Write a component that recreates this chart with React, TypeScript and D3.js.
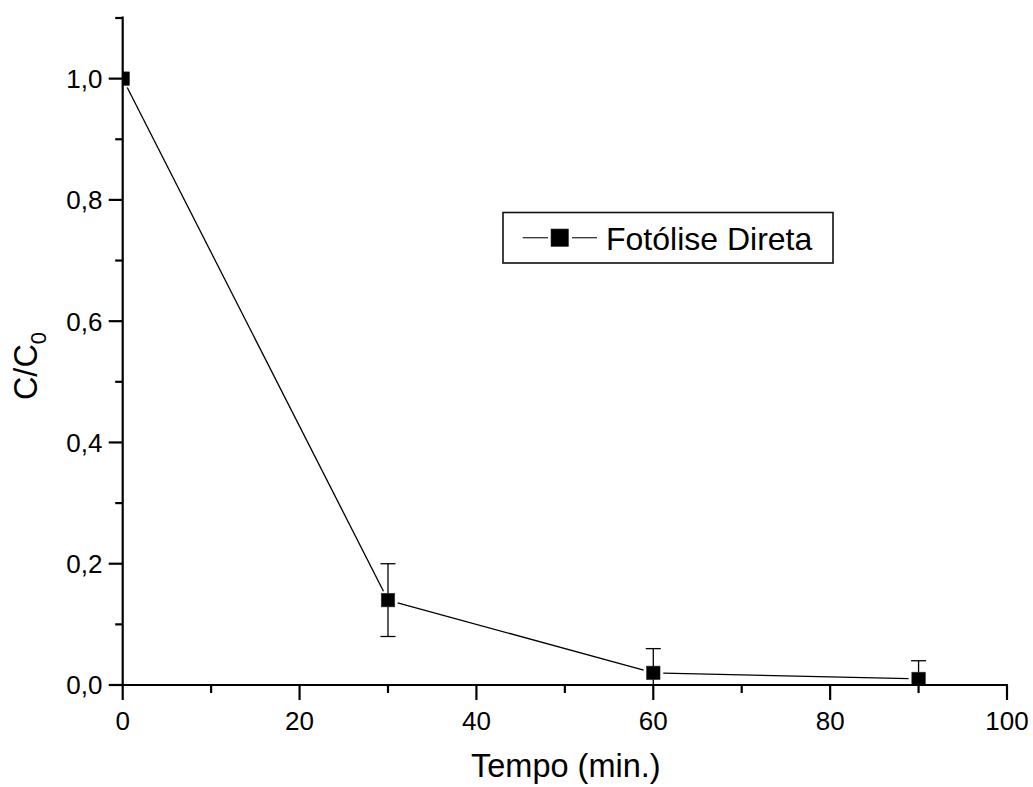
import React from "react";
import * as d3 from "d3";

// Photolysis series: time (min) vs normalised concentration C/C0
const times = [0, 30, 60, 90];
const ratios = [1.0, 0.14, 0.02, 0.01];
const errors = [0, 0.06, 0.04, 0.03];

const xMajorTicks = [0, 20, 40, 60, 80, 100];
const xMinorTicks = [10, 30, 50, 70, 90];
const yMajorTicks = [0, 0.2, 0.4, 0.6, 0.8, 1.0];
const yMinorTicks = [0.1, 0.3, 0.5, 0.7, 0.9, 1.1];

const seriesName = "Fotólise Direta";
const xTitle = "Tempo (min.)";

const W = 1033;
const H = 787;
const FONT = "'Liberation Sans', Arial, Helvetica, sans-serif";

export default function App() {
  const left = 122.7;
  const right = 1007;
  const bottom = 685;
  const top = 18;

  const x = d3.scaleLinear().domain([0, 100]).range([left, right]);
  const y = d3.scaleLinear().domain([0, 1.1]).range([bottom, top]);

  const fmt = (v: number) => v.toFixed(1).replace(".", ",");

  const pts = times.map((t, i) => ({ px: x(t), py: y(ratios[i]), t, v: ratios[i], e: errors[i] }));

  // Line segments with a gap around each marker
  const gap = 10;
  const segs = pts.slice(1).map((p, i) => {
    const a = pts[i];
    const dx = p.px - a.px;
    const dy = p.py - a.py;
    const len = Math.hypot(dx, dy);
    const ux = dx / len;
    const uy = dy / len;
    return { x1: a.px + ux * gap, y1: a.py + uy * gap, x2: p.px - ux * gap, y2: p.py - uy * gap };
  });

  const ms = 13.5;
  const cap = 7.5;

  return (
    <svg width={W} height={H} viewBox={`0 0 ${W} ${H}`} style={{ display: "block", position: "absolute", left: 0, top: 0 }}>
      <rect width={W} height={H} fill="#fff" />
      <defs>
        <clipPath id="plotClip">
          <rect x={left} y={0} width={right - left + 20} height={bottom} />
        </clipPath>
      </defs>

      {/* data line, error bars and markers */}
      <g clipPath="url(#plotClip)">
        {segs.map((s, i) => (
          <line key={i} x1={s.x1} y1={s.y1} x2={s.x2} y2={s.y2} stroke="#000" strokeWidth={1.3} />
        ))}
        {pts.filter((p) => p.e > 0).map((p, i) => (
          <g key={i} stroke="#000" strokeWidth={1.3}>
            <line x1={p.px} x2={p.px} y1={y(p.v + p.e)} y2={y(p.v - p.e)} />
            <line x1={p.px - cap} x2={p.px + cap} y1={y(p.v + p.e)} y2={y(p.v + p.e)} />
            <line x1={p.px - cap} x2={p.px + cap} y1={y(p.v - p.e)} y2={y(p.v - p.e)} />
          </g>
        ))}
        {pts.map((p, i) => (
          <rect key={i} x={p.px - ms / 2} y={p.py - ms / 2} width={ms} height={ms} fill="#000" stroke="#333" strokeWidth={0.6} />
        ))}
      </g>

      {/* axes */}
      <g stroke="#000" strokeWidth={2.2} strokeLinecap="butt">
        <line x1={left} x2={left} y1={top - 1.5} y2={bottom + 1} />
        <line x1={left - 1} x2={right + 1} y1={bottom} y2={bottom} />
        {xMajorTicks.map((t) => (
          <line key={`xM${t}`} x1={x(t)} x2={x(t)} y1={bottom} y2={bottom + 15} />
        ))}
        {xMinorTicks.map((t) => (
          <line key={`xm${t}`} x1={x(t)} x2={x(t)} y1={bottom} y2={bottom + 8} />
        ))}
        {yMajorTicks.map((t) => (
          <line key={`yM${t}`} x1={left} x2={left - 14} y1={y(t)} y2={y(t)} />
        ))}
        {yMinorTicks.map((t) => (
          <line key={`ym${t}`} x1={left} x2={left - 7.5} y1={y(t)} y2={y(t)} />
        ))}
      </g>

      {/* tick labels */}
      <g fontFamily={FONT} fontSize={26} fill="#000">
        {xMajorTicks.map((t) => (
          <text key={`xl${t}`} x={x(t)} y={729.5} textAnchor="middle">
            {t}
          </text>
        ))}
        {yMajorTicks.map((t) => (
          <text key={`yl${t}`} x={102.5} y={y(t)} dy="0.36em" textAnchor="end">
            {fmt(t)}
          </text>
        ))}
      </g>

      {/* axis titles */}
      <text x={(left + right) / 2 + 1} y={777} textAnchor="middle" fontFamily={FONT} fontSize={32.5}>
        {xTitle}
      </text>
      <text transform="translate(37,366) rotate(-90)" textAnchor="middle" fontFamily={FONT} fontSize={32.5}>
        C/C<tspan fontSize={22} dy={9}>0</tspan>
      </text>

      {/* legend */}
      <rect x={503} y={212.5} width={330} height={50.5} fill="#fff" stroke="#111" strokeWidth={1.6} />
      <line x1={522.7} x2={548} y1={237.7} y2={237.7} stroke="#333" strokeWidth={1.3} />
      <line x1={572} x2={597} y1={237.7} y2={237.7} stroke="#333" strokeWidth={1.3} />
      <rect x={551} y={229} width={17.5} height={17.5} fill="#000" stroke="#333" strokeWidth={0.6} />
      <text x={606} y={249.5} fontFamily={FONT} fontSize={32}>
        {seriesName}
      </text>
    </svg>
  );
}
